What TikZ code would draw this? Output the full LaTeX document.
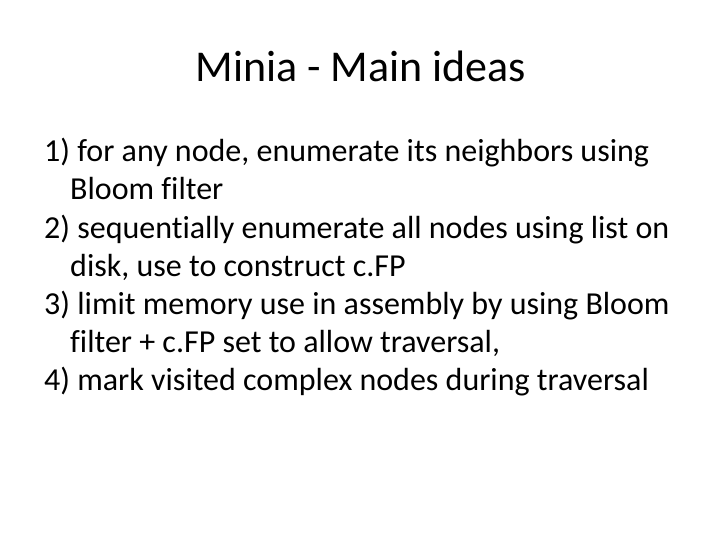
\documentclass[tikz,border=0pt]{standalone}
\usepackage{fontspec}
\setmainfont[Ligatures={NoCommon}]{Carlito}
\begin{document}
\begin{tikzpicture}[x=1pt,y=-1pt,
  body/.style={anchor=base west,inner sep=0pt,font=\fontsize{32}{34}\selectfont}]
\useasboundingbox (0,0) rectangle (720,540);
\node[anchor=base,inner sep=0pt,font=\fontsize{44}{48}\selectfont] (title) at (361,82) {Minia - Main ideas};
\node[body] (l1) at (44,162) {1) for any node, enumerate its neighbors using};
\node[body] (l2) at (70,200) {Bloom filter};
\node[body] (l3) at (44,238) {2) sequentially enumerate all nodes using list on};
\node[body] (l4) at (70,276) {disk, use to construct c.FP};
\node[body] (l5) at (44,314) {3) limit memory use in assembly by using Bloom};
\node[body] (l6) at (70,352) {filter + c.FP set to allow traversal,};
\node[body] (l7) at (44,390) {4) mark visited complex nodes during traversal};
\end{tikzpicture}
\end{document}
